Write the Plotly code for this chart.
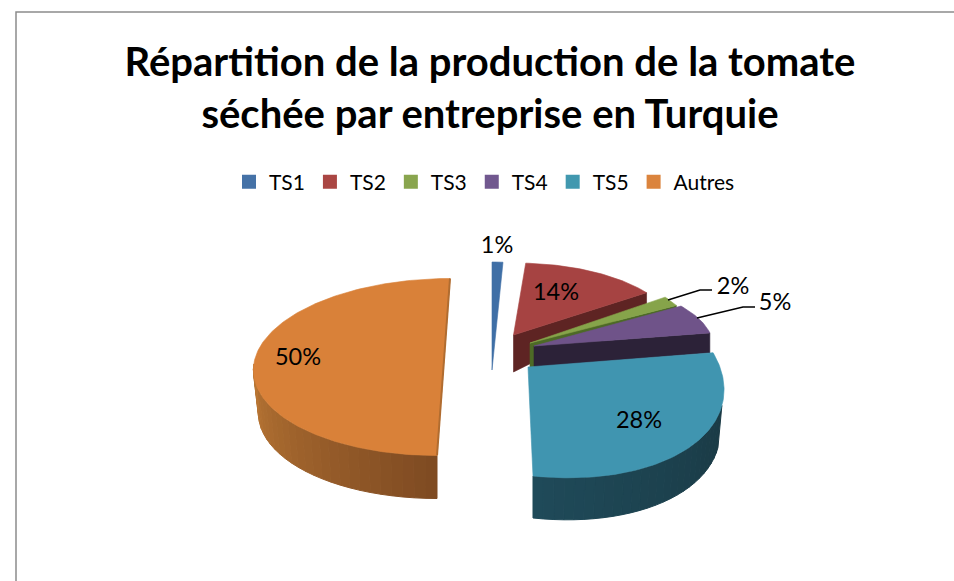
import math
import plotly.graph_objects as go

categories = ["TS1", "TS2", "TS3", "TS4", "TS5", "Autres"]
values = [1, 14, 2, 5, 28, 50]
title_text = "Répartition de la production de la tomate<br>séchée par entreprise en Turquie"

top_colors = ["#3f6fa6", "#a64342", "#86a44a", "#6f5389", "#4095b0", "#d98139"]
legend_colors = ["#4572a7", "#aa4643", "#89a54e", "#71588f", "#4198af", "#db843d"]
FONT = "Lato"

# projected geometry of each exploded slice (pixel space of the hidden axes)
geom = {
    "TS1": dict(cx=492, cy=370, rx=175, ry=108, s=0, v=0),
    "TS2": dict(cx=513.5, cy=335, rx=163, ry=72, s=2, v=0),
    "TS3": dict(cx=530, cy=343, rx=167, ry=78, s=0, v=0),
    "TS4": dict(cx=534, cy=346, rx=179, ry=70, s=0, v=0),
    "TS5": dict(cx=528, cy=367, rx=196, ry=109, s=-5, v=20),
    "Autres": dict(cx=443.5, cy=367, rx=190, ry=88.5, s=6.5, v=0),
}
# perspective shift of a slice's first edge, in degrees of the projected ellipse
start_shift = {"TS4": -6, "TS5": -7}
cut_depth = {"TS2": (37, 13), "TS3": (27, 5), "TS4": (21, 20)}
label_pos = {"TS1": (497, 247), "TS2": (556, 294), "TS3": (733, 288),
             "TS4": (775, 304), "TS5": (639, 422), "Autres": (298, 359)}
leaders = {"TS3": [(668, 300), (700, 290), (712, 290)],
           "TS4": [(697, 318), (743, 307), (755, 307)]}
# wall: start/end turn, depth, inset, colours at the start and end
walls = {
    "TS5": (100, 180, 42, 4, "#1a3a45", "#1f4a59"),
    "Autres": (180, 272, 43, 5, "#7e4a22", "#ba7734"),
}


def pt(g, deg):
    t = math.radians(deg)
    return (g["cx"] + g["rx"] * math.sin(t) + g["s"] * math.cos(t),
            g["cy"] - g["ry"] * math.cos(t) + g["v"] * math.sin(t))


def low(g, deg, d, inset):
    t = math.radians(deg)
    return (g["cx"] + (g["rx"] - inset) * math.sin(t) + g["s"] * math.cos(t),
            g["cy"] + d - g["ry"] * math.cos(t) + g["v"] * math.sin(t))


def mix(a, b, f):
    ca = [int(a[i:i + 2], 16) for i in (1, 3, 5)]
    cb = [int(b[i:i + 2], 16) for i in (1, 3, 5)]
    return "rgb(%d,%d,%d)" % tuple(round(x + (y - x) * f) for x, y in zip(ca, cb))


def poly(pts, color, lw=0.6):
    return go.Scatter(x=[p[0] for p in pts] + [pts[0][0]], y=[p[1] for p in pts] + [pts[0][1]],
                      mode="lines", fill="toself", fillcolor=color,
                      line=dict(color=color, width=lw), showlegend=False, hoverinfo="skip")


total = sum(values)
spans = {}
acc = 0
for c, v in zip(categories, values):
    spans[c] = (acc / total * 360, (acc + v) / total * 360)
    acc += v

fig = go.Figure()
draw_order = ["Autres", "TS1", "TS2", "TS3", "TS4", "TS5"]
wall_colors = {"TS2": "#5e2423", "TS3": "#4d6a26", "TS4": "#2c2238"}
for c in draw_order:
    g = geom[c]
    a, b = spans[c]
    a += start_shift.get(c, 0)
    if c in walls:
        w0, w1, d, inset, c0, c1 = walls[c]
        n = 26
        for i in range(n):
            t0 = w0 + (w1 - w0) * i / n
            t1 = w0 + (w1 - w0) * (i + 1) / n
            fig.add_trace(poly([pt(g, t0), pt(g, t1), low(g, t1, d, inset), low(g, t0, d, inset)],
                               mix(c0, c1, (i + .5) / n), lw=1))
    if c in cut_depth:
        d0, d1 = cut_depth[c]
        apex = (g["cx"], g["cy"])
        corner = pt(g, b)
        fig.add_trace(poly([apex, corner, (corner[0], corner[1] + d1), (apex[0], apex[1] + d0)],
                           wall_colors[c]))
    steps = max(4, int(b - a))
    arc = [pt(g, a + (b - a) * i / steps) for i in range(steps + 1)]
    fig.add_trace(poly([(g["cx"], g["cy"])] + arc, top_colors[categories.index(c)]))

# cut edge on the large slice
ga = geom["Autres"]
p0, p1 = pt(ga, 0), pt(ga, 180)
fig.add_trace(go.Scatter(x=[p0[0], p1[0]], y=[p0[1], p1[1]], mode="lines",
                         line=dict(color="#b06c30", width=2), showlegend=False, hoverinfo="skip"))

for c, pts in leaders.items():
    fig.add_trace(go.Scatter(x=[p[0] for p in pts], y=[p[1] for p in pts], mode="lines",
                             line=dict(color="#000000", width=1.5), showlegend=False, hoverinfo="skip"))

fig.add_trace(go.Scatter(x=[label_pos[c][0] for c in categories], y=[label_pos[c][1] for c in categories],
                         mode="text", text=[f"{v}%" for v in values], textposition="middle center",
                         textfont=dict(family=FONT, size=23.5, color="#000000"),
                         showlegend=False, hoverinfo="skip"))

for c, col in zip(categories, legend_colors):
    fig.add_trace(go.Scatter(x=[None], y=[None], mode="markers", name=c,
                             marker=dict(symbol="square", size=14, color=col)))

fig.update_layout(
    width=954, height=581, margin=dict(l=0, r=0, t=0, b=0),
    paper_bgcolor="white", plot_bgcolor="white",
    xaxis=dict(range=[0, 954], visible=False, fixedrange=True),
    yaxis=dict(range=[581, 0], visible=False, fixedrange=True),
    title=dict(text=title_text, x=490 / 954, xanchor="center", y=1 - 76 / 581, yanchor="middle",
               font=dict(family=FONT, size=40, color="#000000", weight="bold")),
    legend=dict(orientation="h", x=229 / 954, xanchor="left", y=1 - 182 / 581, yanchor="middle",
                itemclick=False, itemdoubleclick=False,
                font=dict(family=FONT, size=21, color="#000000"), bgcolor="rgba(0,0,0,0)"),
    shapes=[dict(type="path", xref="x", yref="y", path="M 16 581 L 16 12 L 954 12",
                 line=dict(color="#8c8c8c", width=1.5))],
)

fig.write_html("out.html", config=dict(displayModeBar=False),
               post_script="document.body.style.margin='0';document.body.style.overflow='hidden';")
